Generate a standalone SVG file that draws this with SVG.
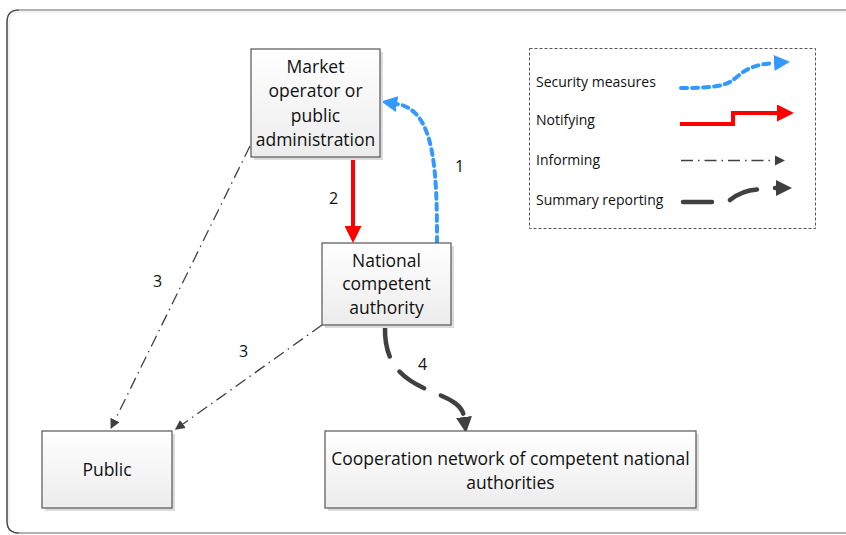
<svg xmlns="http://www.w3.org/2000/svg" width="846" height="535" viewBox="0 0 846 535">
<style>
text{font-family:"Open Sans","Liberation Sans",sans-serif;fill:#111}
.bt{font-size:17.5px;text-anchor:middle}
.lt{font-size:14px}
.num{font-size:16px}
.box{fill:url(#g);stroke:#555;stroke-width:1.2}
.sh{fill:#dcdcdc}
.inf{fill:none;stroke:#404040;stroke-width:1.3;stroke-dasharray:12 5 1.5 5}
.blu{fill:none;stroke:#3399ff;stroke-width:4;stroke-dasharray:6 5;stroke-linecap:round}
.red{fill:none;stroke:#ff0000;stroke-width:4}
.sum{fill:none;stroke:#404040;stroke-width:4.5;stroke-dasharray:30 18;stroke-linecap:round}
</style>
<defs>
<linearGradient id="g" x1="0" y1="0" x2="0" y2="1"><stop offset="0" stop-color="#ffffff"/><stop offset="1" stop-color="#ececec"/></linearGradient>
<marker id="ab" viewBox="0 0 10 10" refX="0" refY="5" markerWidth="16" markerHeight="16" markerUnits="userSpaceOnUse" orient="auto"><path d="M0,0L10,5L0,10z" fill="#3399ff"/></marker>
<marker id="ar" viewBox="0 0 10 10" refX="0" refY="5" markerWidth="17" markerHeight="17" markerUnits="userSpaceOnUse" orient="auto"><path d="M0,0L10,5L0,10z" fill="#ff0000"/></marker>
<marker id="ai" viewBox="0 0 10 10" refX="0" refY="5" markerWidth="10" markerHeight="11" markerUnits="userSpaceOnUse" orient="auto"><path d="M0,0L10,5L0,10z" fill="#404040"/></marker>
<marker id="as" viewBox="0 0 10 10" refX="0" refY="5" markerWidth="16" markerHeight="17" markerUnits="userSpaceOnUse" orient="auto"><path d="M0,0L10,5L0,10z" fill="#404040"/></marker>
</defs>
<rect x="0" y="0" width="846" height="535" fill="#ffffff"/>
<g id="frame">
<path d="M9,540 L9,24 Q9,12 21,12 L850,12" fill="none" stroke="#eeeeee" stroke-width="1.5"/>
<path d="M850,10 L19,10 Q7,10 7,22 L7,521 Q7,533 19,533 L850,533" fill="none" stroke="#999999" stroke-width="1.3"/>
<path d="M19,10 Q7,10 7,22 L7,521 Q7,533 19,533" fill="none" stroke="#444444" stroke-width="1.2"/>
</g>
<g id="legend">
<rect x="529.5" y="48.5" width="286" height="180" fill="none" stroke="#555" stroke-width="1" stroke-dasharray="3 2"/>
<text class="lt" x="536" y="87">Security measures</text>
<text class="lt" x="536" y="125">Notifying</text>
<text class="lt" x="536" y="165">Informing</text>
<text class="lt" x="536" y="205">Summary reporting</text>
<path class="blu" d="M681,88 C725,88 728,84 738,76 C748,67 760,64 774,63" marker-end="url(#ab)"/>
<path class="red" d="M680,124 L733,124 L733,113 L777,113" marker-end="url(#ar)"/>
<path class="inf" d="M681,160.5 L775,160.5" marker-end="url(#ai)"/>
<path class="sum" d="M683,202 L712,202 M730,200 C740,192 748,190 757,189.5 M775,188 L776,188" marker-end="url(#as)" stroke-dasharray="none"/>
</g>
<g id="connectors">
<path class="blu" d="M437,243 C437,170 435,110 397,104" marker-end="url(#ab)"/>
<path class="red" d="M353,157 L353,226" marker-end="url(#ar)"/>
<path class="inf" d="M250,146 L115,420" marker-end="url(#ai)"/>
<path class="inf" d="M322,325 L183,424" marker-end="url(#ai)"/>
<path class="sum" d="M385,327 C383,400 460,385 464,417" marker-end="url(#as)"/>
<text class="num" x="455" y="172">1</text>
<text class="num" x="329" y="204">2</text>
<text class="num" x="153" y="287">3</text>
<text class="num" x="239" y="357">3</text>
<text class="num" x="418" y="370">4</text>
</g>
<g id="market">
<rect class="sh" x="254" y="52" width="129" height="108"/>
<rect class="box" x="251" y="49" width="129" height="108"/>
<text class="bt" x="315.5" y="73">Market</text>
<text class="bt" x="315.5" y="97">operator or</text>
<text class="bt" x="315.5" y="122">public</text>
<text class="bt" x="315.5" y="146">administration</text>
</g>
<g id="national">
<rect class="sh" x="325" y="246" width="129" height="82"/>
<rect class="box" x="322" y="243" width="129" height="82"/>
<text class="bt" x="386.5" y="267">National</text>
<text class="bt" x="386.5" y="290">competent</text>
<text class="bt" x="386.5" y="314">authority</text>
</g>
<g id="public">
<rect class="sh" x="45" y="434" width="130" height="77"/>
<rect class="box" x="42" y="431" width="130" height="77"/>
<text class="bt" x="107" y="476">Public</text>
</g>
<g id="cooperation">
<rect class="sh" x="328" y="434" width="371" height="77"/>
<rect class="box" x="325" y="431" width="371" height="77"/>
<text class="bt" x="510.5" y="465">Cooperation network of competent national</text>
<text class="bt" x="510.5" y="489">authorities</text>
</g>
</svg>
